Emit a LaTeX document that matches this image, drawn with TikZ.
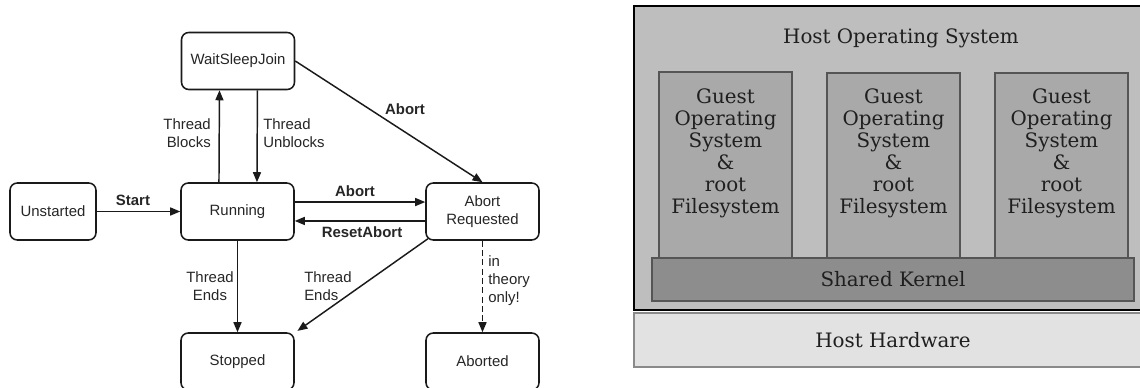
\documentclass[tikz,border=0pt]{standalone}
\usepackage{fontspec}
\newfontfamily\sansf{Liberation Sans}
\newfontfamily\seriff{DejaVu Serif}
\usetikzlibrary{arrows.meta}
\definecolor{lineC}{HTML}{1A1A1A}
\definecolor{txtC}{HTML}{262626}
\definecolor{hostC}{HTML}{BEBEBE}
\definecolor{guestC}{HTML}{A9A9A9}
\definecolor{kernC}{HTML}{8D8D8D}
\definecolor{hwC}{HTML}{E2E2E2}
\definecolor{edgeC}{HTML}{555555}
\definecolor{hwedgeC}{HTML}{8A8A8A}
\tikzset{
  state/.style={draw=lineC, line width=1.15pt, rounded corners=5.5pt, fill=white,
    minimum width=84.75pt, minimum height=42.75pt, inner sep=0pt,
    font=\sansf\fontsize{11.2}{13.5}\selectfont, text=txtC, align=center},
  lbl/.style={font=\sansf\fontsize{11.2}{13.5}\selectfont, text=txtC, inner sep=0pt},
  blbl/.style={lbl, font=\sansf\bfseries\fontsize{11.2}{13.5}\selectfont},
  trans/.style={draw=lineC, line width=1.1pt, -{Triangle[length=7.5pt,width=6pt]}},
  serif/.style={font=\seriff\fontsize{14.9}{16.5}\selectfont, text=black!88, inner sep=0pt, align=center},
  guestbox/.style={draw=edgeC, line width=0.8pt, fill=guestC},
}
\begin{document}
\begin{tikzpicture}[x=0.75pt,y=-0.75pt]
\useasboundingbox (0,0) rectangle (1140,388);
\clip (0,0) rectangle (1140,388);
\fill[white] (0,0) rectangle (1140,388);
% ---------- left: thread states ----------
\node[state] (ws) at (238,61) {WaitSleepJoin};
\node[state, minimum width=64.5pt] (un) at (53,211.5) {Unstarted};
\node[state] (run) at (237.5,211.5) {Running};
\node[state] (ar) at (482.5,211.5) {Abort\\Requested};
\node[state] (st) at (237.5,361.5) {Stopped};
\node[state] (ab) at (482.5,361.5) {Aborted};

\draw[trans] (un.east) -- (run.west);
\node[blbl] (lstart) at (133,200) {Start};

\draw[trans] ([xshift=-13.9pt]run.north) -- ([xshift=-13.9pt]ws.south);
\draw[trans] ([xshift=14.6pt]ws.south) -- ([xshift=14.6pt]run.north);
\node[lbl, anchor=east, align=right] (lblock) at (211,133) {Thread\\Blocks};
\node[lbl, anchor=west, align=left] (lunblock) at (263,133) {Thread\\Unblocks};

\draw[trans] (ws.east) -- (ar.north);
\node[blbl] (labort1) at (405,109) {Abort};

\draw[trans] ([yshift=7.1pt]run.east) -- ([yshift=7.1pt]ar.west);
\node[blbl] (labort2) at (355,191) {Abort};
\draw[trans] ([yshift=-7.1pt]ar.west) -- ([yshift=-7.1pt]run.east);
\node[blbl] (lreset) at (362,232) {ResetAbort};

\draw[trans] (run.south) -- (st.north);
\node[lbl, align=center] (lends1) at (210,286) {Thread\\Ends};
\draw[trans] ([xshift=2pt,yshift=1.5pt]ar.south west) -- ([xshift=2pt,yshift=1pt]st.north east);
\node[lbl, anchor=west, align=left] (lends2) at (304,286) {Thread\\Ends};

\draw[trans, dash pattern=on 4.5pt off 2.5pt] (ar.south) -- (ab.north);
\node[lbl, anchor=west, align=left] (ltheory) at (488,281) {in\\theory\\only!};

% ---------- right: containers ----------
\draw[fill=hwC, draw=hwedgeC, line width=1.2pt] (634,313) rectangle (1152,367);
\node[serif] (hw) at (893,340) {Host Hardware};
\draw[fill=hostC, draw=black, line width=1.6pt] (634,6) rectangle (1152,310);
\node[serif] (hos) at (901,38) {Host Operating System};
\draw[guestbox] (659,72) rectangle (792,259);
\draw[guestbox] (827,73) rectangle (960,259);
\draw[guestbox] (995,73) rectangle (1128,259);
\node[serif] (g1) at (725.5,153) {Guest\\Operating\\System\\\&\\root\\Filesystem};
\node[serif] (g2) at (893.5,153) {Guest\\Operating\\System\\\&\\root\\Filesystem};
\node[serif] (g3) at (1061.5,153) {Guest\\Operating\\System\\\&\\root\\Filesystem};
\draw[fill=kernC, draw=edgeC, line width=1pt] (652,258) rectangle (1134,301);
\node[serif] (sk) at (893,279.5) {Shared Kernel};
\end{tikzpicture}
\end{document}
